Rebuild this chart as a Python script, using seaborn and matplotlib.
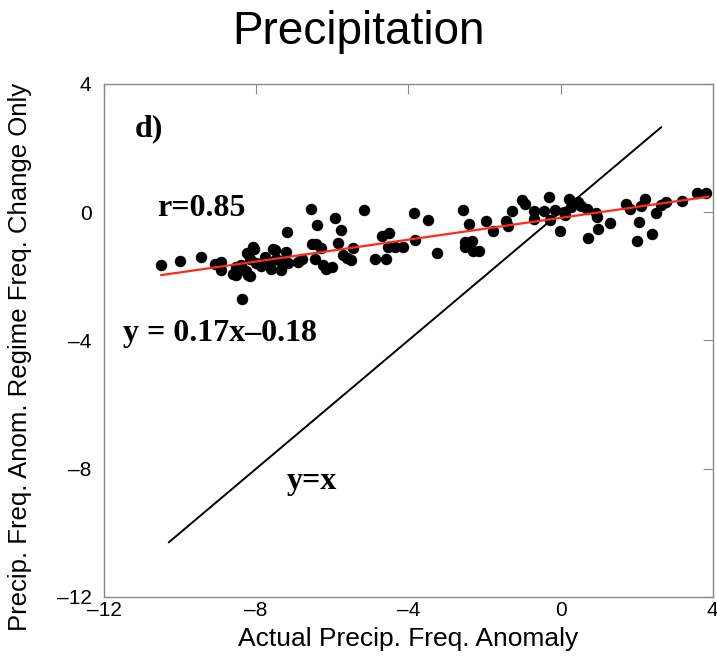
import matplotlib
matplotlib.use("Agg")
import matplotlib.pyplot as plt
import seaborn as sns
import pandas as pd
from matplotlib import font_manager

# Scatter data: actual precipitation frequency anomaly vs. regime-change-only anomaly
actual_anom = [
    -10.5, -10.0, -9.45, -9.08, -8.92, -8.92, -8.52, -8.52, -8.37, -8.27,
    -8.17, -8.25, -8.05, -8.15, -8.0, -7.88, -7.78, -8.39, -7.6, -7.5,
    -7.36, -7.34, -7.22, -7.2, -7.15, -6.9, -6.8, -6.55, -6.52, -6.4,
    -6.42, -6.46, -6.3, -6.24, -6.16, -6.0, -5.92, -5.77, -5.85, -5.72,
    -5.6, -5.5, -5.45, -5.17, -4.87, -4.69, -4.58, -4.5, -4.54, -4.35,
    -4.15, -3.84, -3.83, -3.48, -3.25, -2.55, -2.4, -2.5, -2.5, -2.33,
    -2.3, -2.13, -1.96, -1.78, -1.42, -1.38, -1.27, -1.0, -0.93, -0.69,
    -0.69, -0.43, -0.29, -0.27, -0.15, -0.02, 0.1, 0.13, 0.23, 0.28,
    0.45, 0.53, 0.7, 0.73, 0.94, 0.95, 0.98, 1.3, 1.71, 1.83,
    2.0, 2.06, 2.12, 2.23, 2.4, 2.52, 2.64, 2.78, 3.2, 3.6,
    3.83, -8.6, -8.21, -7.56, -7.47, -8.08, -7.65,
]
regime_anom = [
    -1.65, -1.54, -1.41, -1.63, -1.55, -1.80, -1.72, -1.97, -2.71, -1.83,
    -2.0, -1.29, -1.14, -1.45, -1.58, -1.67, -1.40, -1.66, -1.77, -1.18,
    -1.51, -1.80, -1.24, -0.63, -1.60, -1.56, -1.45, 0.11, -0.99, -0.40,
    -1.0, -1.45, -1.13, -1.64, -1.77, -1.70, -0.19, -0.57, -0.96, -1.34,
    -1.42, -1.50, -1.12, 0.06, -1.46, -0.74, -1.45, -0.64, -1.08, -1.08,
    -1.10, -0.02, -0.88, -0.25, -1.29, 0.07, -0.36, -0.92, -1.09, -0.91,
    -1.2, -1.2, -0.29, -0.58, -0.29, -0.42, 0.03, 0.38, 0.25, 0.04,
    -0.23, 0.04, 0.46, -0.25, 0.07, -0.58, 0.0, -0.1, 0.42, 0.17,
    0.3, 0.2, 0.09, -0.8, -0.02, -0.16, -0.54, -0.33, 0.25, 0.09,
    -0.9, -0.3, 0.18, 0.4, -0.68, -0.04, 0.22, 0.3, 0.34, 0.61,
    0.61, -1.92, -1.97, -1.14, -1.45, -1.09, -1.55,
]

# Least-squares fit and reference line
fit_slope = 0.17
fit_intercept = -0.18
fit_x_range = [-10.5, 3.9]
identity_range = [-10.3, 2.65]

axis_ticks = [-12, -8, -4, 0, 4]
tick_labels = ["\u201312", "\u20138", "\u20134", "0", "4"]

df = pd.DataFrame({"actual": actual_anom, "regime": regime_anom})

sns.set_theme(style="white")
plt.rcParams.update({"text.color": "black", "axes.labelcolor": "black",
                     "xtick.color": "black", "ytick.color": "black"})

available = {f.name for f in font_manager.fontManager.ttflist}
narrow = ["Liberation Sans Narrow", "Liberation Sans"] if "Liberation Sans Narrow" in available else ["Liberation Sans"]

fig = plt.figure(figsize=(7.17, 6.6), dpi=100)
ax = fig.add_axes([0.145, 0.0955, 0.849, 0.7775])

sns.scatterplot(data=df, x="actual", y="regime", ax=ax, color="black",
                s=68, edgecolor="black", linewidth=0, zorder=3, legend=False)

fit_y = [fit_slope * v + fit_intercept for v in fit_x_range]
sns.lineplot(x=fit_x_range, y=fit_y, ax=ax, color="#ff2a1a", linewidth=1.6, zorder=4)
sns.lineplot(x=identity_range, y=identity_range, ax=ax, color="black", linewidth=1.4, zorder=2)

ax.set_xlim(-12, 4)
ax.set_ylim(-12, 4)
ax.set_xticks(axis_ticks)
ax.set_yticks(axis_ticks)
ax.set_xticklabels(tick_labels, family=narrow, fontsize=15)
ax.set_yticklabels(tick_labels, family=narrow, fontsize=15)
ax.tick_params(direction="in", length=7, width=0.8, color="#888888",
               top=True, right=True)
ax.tick_params(axis="x", pad=3)
ax.tick_params(axis="y", pad=9)
for sp in ax.spines.values():
    sp.set_color("#888888")
    sp.set_linewidth(1.0)

ax.set_xlabel("Actual Precip. Freq. Anomaly", family=narrow, fontsize=19, labelpad=5)
ax.set_ylabel("Precip. Freq. Anom. Regime Freq. Change Only", family=narrow,
              fontsize=18.5)
ax.yaxis.set_label_coords(-0.118, 0.468)

fig.suptitle("Precipitation", family="Liberation Sans", fontsize=33, y=0.985, va="top")

serif = dict(family="Liberation Serif", fontweight="bold", fontsize=23, color="black")
ax.text(-11.2, 2.6, "d)", ha="left", va="center", **serif)
ax.text(-10.6, 0.1, "r=0.85", ha="left", va="center", **serif)
ax.text(-11.5, -3.8, "y = 0.17x\u20130.18", ha="left", va="center", **serif)
ax.text(-7.2, -8.4, "y=x", ha="left", va="center", **serif)

fig.savefig("out.png", dpi=100, facecolor="white")
